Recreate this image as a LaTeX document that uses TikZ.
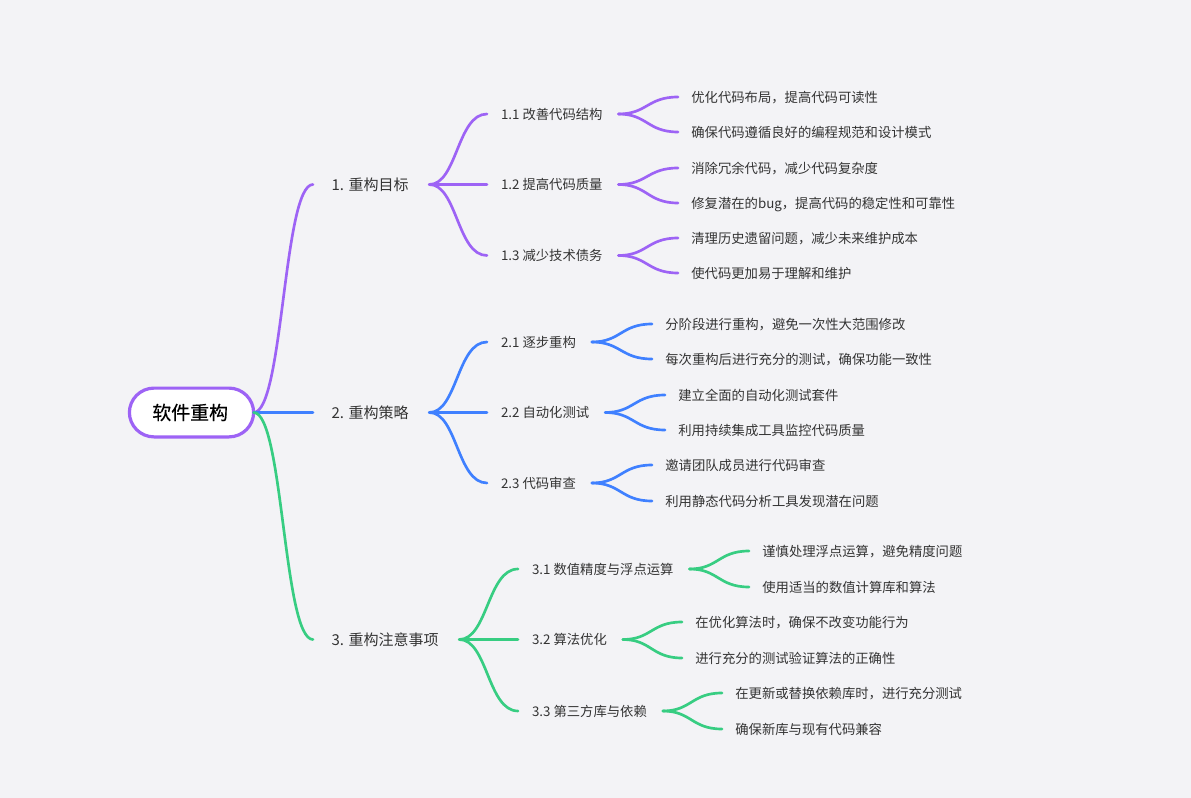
\documentclass[tikz,border=0pt]{standalone}
\usepackage{fontspec}
\setmainfont{Noto Sans CJK SC}
\newfontfamily\rootfont[FakeBold=0.35]{Noto Sans CJK SC}
\usetikzlibrary{calc}
\definecolor{pagebg}{HTML}{F3F3F6}
\definecolor{cpurple}{HTML}{9D63F5}
\definecolor{cblue}{HTML}{3F80FF}
\definecolor{cgreen}{HTML}{37CD82}
\definecolor{ink}{HTML}{333333}
\tikzset{
  x=0.75pt,y=-0.75pt,
  rootnode/.style={draw=cpurple,fill=white,line width=2.4pt,rounded corners=18.5pt,minimum width=93.2pt,minimum height=36.6pt,inner sep=0pt,outer sep=0pt,font=\fontsize{14.2}{16}\rootfont,text=black},
  topicone/.style={anchor=west,inner xsep=14pt,inner ysep=0pt,outer sep=0pt,text height=10.1pt,text depth=1.7pt,font=\fontsize{11.25}{13}\selectfont,text=ink},
  topictwo/.style={anchor=west,inner xsep=10.5pt,inner ysep=0pt,outer sep=0pt,text height=9.6pt,text depth=1.5pt,font=\fontsize{10}{12}\selectfont,text=ink},
  topicthree/.style={anchor=west,inner xsep=10pt,inner ysep=0pt,outer sep=0pt,text height=9.6pt,text depth=1.5pt,font=\fontsize{10}{12}\selectfont,text=ink},
  linkline/.style={line width=2pt,line cap=round,shorten <=1.5pt},
  rootlink/.style={shorten <=0pt},
}
\newcommand{\linkit}[3]{%
  \draw[linkline,#3] let \p1=(#1.east),\p2=(#2.west) in
    (#1.east) .. controls ({0.5*\x1+0.5*\x2},\y1) and ({0.5*\x1+0.5*\x2},\y2) .. (#2.west);}
\newcommand{\straightlink}[3]{\draw[linkline,#3] (#1.east) -- (#2.west);}
\begin{document}
\begin{tikzpicture}
\useasboundingbox (0,0) rectangle (1191,798);
\fill[pagebg] (0,0) rectangle (1191,798);
\node[rootnode] (root) at (191.5,412.5) {软件重构\kern2pt};
% level 1
\node[topicone] (a) at (313,184.5) {1. 重构目标};
\node[topicone] (b) at (313,412.5) {2. 重构策略};
\node[topicone] (c) at (313,639.5) {3. 重构注意事项};
% level 2
\node[topictwo] (a1) at (487,114) {1.1 改善代码结构};
\node[topictwo] (a2) at (487,184.5) {1.2 提高代码质量};
\node[topictwo] (a3) at (487,255.5) {1.3 减少技术债务};
\node[topictwo] (b1) at (487,342) {2.1 逐步重构};
\node[topictwo] (b2) at (487,412.5) {2.2 自动化测试};
\node[topictwo] (b3) at (487,483) {2.3 代码审查};
\node[topictwo] (c1) at (518,569) {3.1 数值精度与浮点运算};
\node[topictwo] (c2) at (518,639.5) {3.2 算法优化};
\node[topictwo] (c3) at (518,711) {3.3 第三方库与依赖};
% level 3
\node[topicthree] (a11) at (678,97) {优化代码布局，提高代码可读性};
\node[topicthree] (a12) at (678,132) {确保代码遵循良好的编程规范和设计模式};
\node[topicthree] (a21) at (678,168) {消除冗余代码，减少代码复杂度};
\node[topicthree] (a22) at (678,203) {修复潜在的bug，提高代码的稳定性和可靠性};
\node[topicthree] (a31) at (678,238) {清理历史遗留问题，减少未来维护成本};
\node[topicthree] (a32) at (678,273) {使代码更加易于理解和维护};
\node[topicthree] (b11) at (652,324) {分阶段进行重构，避免一次性大范围修改};
\node[topicthree] (b12) at (652,359) {每次重构后进行充分的测试，确保功能一致性};
\node[topicthree] (b21) at (665,395) {建立全面的自动化测试套件};
\node[topicthree] (b22) at (665,430) {利用持续集成工具监控代码质量};
\node[topicthree] (b31) at (652,465) {邀请团队成员进行代码审查};
\node[topicthree] (b32) at (652,501) {利用静态代码分析工具发现潜在问题};
\node[topicthree] (c11) at (749,551) {谨慎处理浮点运算，避免精度问题};
\node[topicthree] (c12) at (749,587) {使用适当的数值计算库和算法};
\node[topicthree] (c21) at (682,622) {在优化算法时，确保不改变功能行为};
\node[topicthree] (c22) at (682,658) {进行充分的测试验证算法的正确性};
\node[topicthree] (c31) at (722,693) {在更新或替换依赖库时，进行充分测试};
\node[topicthree] (c32) at (722,729) {确保新库与现有代码兼容};
% connectors
\linkit{root}{a}{cpurple,rootlink}
\straightlink{root}{b}{cblue,rootlink}
\linkit{root}{c}{cgreen,rootlink}
\straightlink{a}{a2}{cpurple}
\straightlink{b}{b2}{cblue}
\straightlink{c}{c2}{cgreen}
\foreach \src/\dst/\col in {a/a1/cpurple,a/a3/cpurple,b/b1/cblue,b/b3/cblue,c/c1/cgreen,c/c3/cgreen,
 a1/a11/cpurple,a1/a12/cpurple,a2/a21/cpurple,a2/a22/cpurple,a3/a31/cpurple,a3/a32/cpurple,
 b1/b11/cblue,b1/b12/cblue,b2/b21/cblue,b2/b22/cblue,b3/b31/cblue,b3/b32/cblue,
 c1/c11/cgreen,c1/c12/cgreen,c2/c21/cgreen,c2/c22/cgreen,c3/c31/cgreen,c3/c32/cgreen}{
  \linkit{\src}{\dst}{\col}
}
\end{tikzpicture}
\end{document}
